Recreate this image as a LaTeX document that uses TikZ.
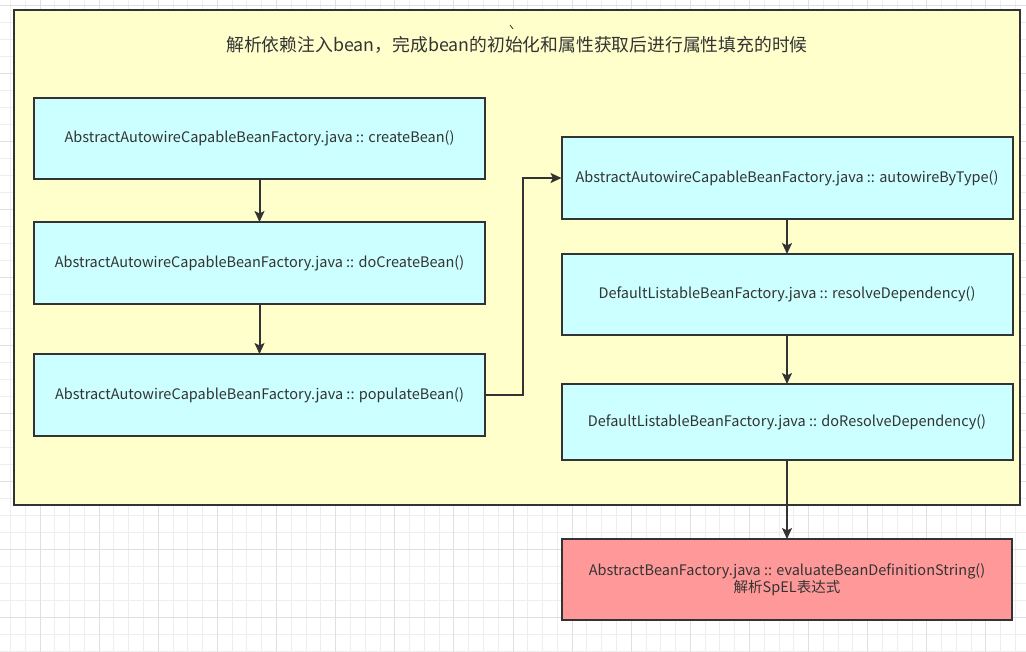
\documentclass[tikz,border=0pt]{standalone}
\usepackage{fontspec}
\setmainfont{Noto Sans CJK SC}
\usetikzlibrary{arrows.meta}
\definecolor{linec}{HTML}{333333}
\definecolor{txtc}{HTML}{333333}
\definecolor{yellowf}{HTML}{FFFFCC}
\definecolor{cyanf}{HTML}{CCFFFF}
\definecolor{redf}{HTML}{FF9999}
\definecolor{gridminor}{HTML}{EEEEEE}
\definecolor{gridmajor}{HTML}{E0E0E0}
\begin{document}
\begin{tikzpicture}[x=1pt,y=-1pt]
\tikzset{
  box/.style={draw=linec, line width=2pt, fill=cyanf, minimum width=451pt,
    inner sep=0pt, outer sep=0pt, text=txtc, align=center,
    font=\fontsize{14.5}{17}\selectfont},
  redbox/.style={box, fill=redf, minimum width=450pt},
  container/.style={draw=linec, line width=2pt, fill=yellowf, inner sep=0pt, outer sep=0pt},
  conn/.style={draw=linec, line width=2pt, -{Stealth[length=11pt,width=10pt,inset=2.5pt]}},
  minorline/.style={draw=gridminor, line width=0.8pt},
  majorline/.style={draw=gridmajor, line width=0.9pt},
}
\useasboundingbox (0,0) rectangle (1026,652);
\fill[white] (0,0) rectangle (1026,652);
% grid
\foreach \i in {0,...,69} \draw[minorline] ({10.4+14.78*\i},0) -- ({10.4+14.78*\i},652);
\foreach \j in {0,...,38} \draw[minorline] (0,{5+17*\j}) -- (1026,{5+17*\j});
\foreach \i in {0,...,17} \draw[majorline] ({40+59.12*\i},0) -- ({40+59.12*\i},652);
\foreach \j in {0,...,9} \draw[majorline] (0,{5+68*\j}) -- (1026,{5+68*\j});
% container
\node[container, minimum width=1006pt, minimum height=495pt] (cont) at (517,257.5) {};
\node[text=txtc, font=\fontsize{17.8}{20}\selectfont, inner sep=0pt] (title) at (517,45) {解析依赖注入bean，完成bean的初始化和属性获取后进行属性填充的时候};
\coordinate (tickA) at (510,25);
\coordinate (tickB) at (513,29);
\draw[linec, line width=0.8pt] (tickA) -- (tickB);
% boxes
\node[box, minimum height=81pt] (b1) at (259.5,138.5) {AbstractAutowireCapableBeanFactory.java :: createBean()};
\node[box, minimum height=82pt] (b2) at (259.5,263) {AbstractAutowireCapableBeanFactory.java :: doCreateBean()};
\node[box, minimum height=82pt] (b3) at (259.5,395) {AbstractAutowireCapableBeanFactory.java :: populateBean()};
\node[box, minimum height=82pt] (b4) at (787,178) {AbstractAutowireCapableBeanFactory.java :: autowireByType()};
\node[box, minimum height=81pt] (b5) at (787,294.5) {DefaultListableBeanFactory.java :: resolveDependency()};
\node[box, minimum height=76pt] (b6) at (787,422) {DefaultListableBeanFactory.java :: doResolveDependency()};
\node[redbox, minimum height=81pt] (r) at (787,579.5) {AbstractBeanFactory.java :: evaluateBeanDefinitionString()\\解析SpEL表达式};
% connectors
\draw[conn] (b1) -- (b2);
\draw[conn] (b2) -- (b3);
\draw[conn] (b3.east) -- ++(38,0) |- (b4.west);
\draw[conn] (b4) -- (b5);
\draw[conn] (b5) -- (b6);
\draw[conn] (b6) -- (r);
\end{tikzpicture}
\end{document}
